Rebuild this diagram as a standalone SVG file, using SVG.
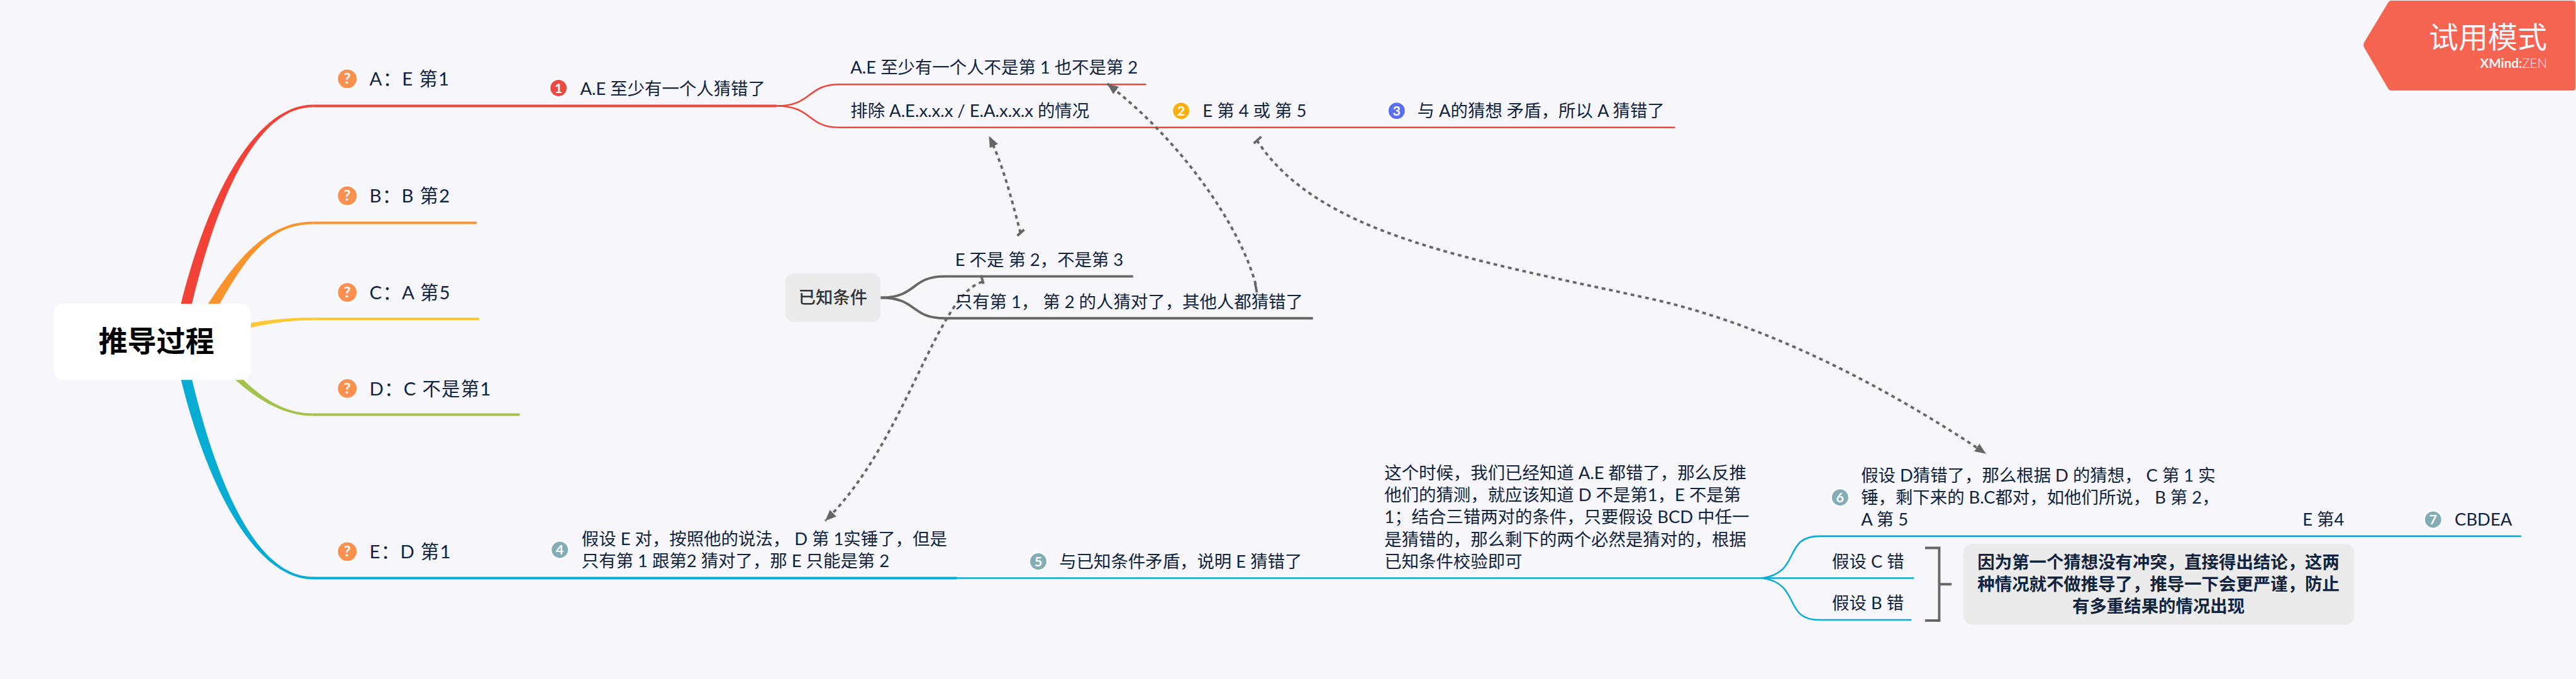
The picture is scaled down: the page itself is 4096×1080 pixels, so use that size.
<svg xmlns="http://www.w3.org/2000/svg" width="4096" height="1080" viewBox="0 0 4096 1080">
<style>
text{font-family:"Lato","Noto Sans CJK SC","Noto Sans",sans-serif;fill:#10233f}
.t{font-size:28px}
.h{font-size:30px;letter-spacing:1.3px}
.b{font-size:28px;font-weight:700}
.c{text-anchor:middle}
.ico{stroke:#fff;stroke-width:2.5}
.q{fill:#fc9050}.n1{fill:#ea4a44}.n2{fill:#fdb00d}.n3{fill:#5a6ff0}.n4{fill:#82adb6}
.g{font-weight:700;text-anchor:middle;fill:#fff}
.gq{font-size:24px}.gn{font-size:22px}
.red{fill:none;stroke:#f14338;stroke-width:2.6}
.teal{fill:none;stroke:#06acd2;stroke-width:2.6}
.grey{fill:none;stroke:#666;stroke-width:4}
.rel{fill:none;stroke:#666;stroke-width:4;stroke-dasharray:6 6}
.tick{fill:none;stroke:#666;stroke-width:4}
.box{fill:#ebebeb}
</style>
<defs>
<marker id="arrow" markerUnits="userSpaceOnUse" markerWidth="20" markerHeight="16" refX="18" refY="7.5" orient="auto"><path d="M0 0L18 7.5L0 15Z" fill="#666"/></marker>
</defs>
<rect width="4096" height="1080" fill="#f6f6fb"/>
<g transform="scale(0.9792)">
<g id="connectors">
<path d="M281 550C331 308 420 170 508 170V174C420 174 349 312 299 550Z" fill="#f14338"/>
<path d="M300 555C355 468 410 360 508 360V364C410 364 375 472 320 555Z" fill="#f9942d"/>
<path d="M300 555C360 533 420 516 508 516V520C420 520 360 547 300 565Z" fill="#fdc933"/>
<path d="M325 555C362 602 430 675.5 508 675.5V671.5C430 671.5 378 598 340 555Z" fill="#a4c34a"/>
<path d="M281 560C331 802 420 941 508 941V937C420 937 349 798 299 560Z" fill="#06acd2"/>
<path d="M508 172H1261" fill="none" stroke="#f14338" stroke-width="4"/>
<path d="M508 362H774" fill="none" stroke="#f9942d" stroke-width="4"/>
<path d="M508 518H778" fill="none" stroke="#fdc933" stroke-width="4"/>
<path d="M508 673.5H844" fill="none" stroke="#a4c34a" stroke-width="4"/>
<path d="M506 939H1554" fill="none" stroke="#06acd2" stroke-width="4"/>
<path class="red" d="M1261 172C1320 172 1310 137 1363 137H1861"/>
<path class="red" d="M1261 172C1320 172 1310 207 1363 207H2720"/>
<path class="teal" d="M1554 939H3108"/>
<path class="teal" d="M2862 939C2925 930 2895 871 2954 871H4094"/>
<path class="teal" d="M2862 939C2925 948 2895 1007 2954 1007H3104"/>
<path class="grey" d="M1430 483.5C1490 483.5 1478 449 1534 449H1840"/>
<path class="grey" d="M1430 483.5C1490 483.5 1478 517 1534 517H2132"/>
<path class="grey" d="M3126 890H3149V1008H3126M3149 949H3169"/>
<path class="rel" d="M1657 378C1647 340 1630 270 1606 221" marker-end="url(#arrow)"/>
<path class="tick" d="M1652 383L1663 373"/>
<path class="rel" d="M2039 462C2015 370 1920 230 1798 136" marker-end="url(#arrow)"/>
<path class="tick" d="M2041 475L2038 460"/>
<path class="rel" d="M2041 228C2140 380 2380 420 2679 485C2860 525 3050 620 3225 737" marker-end="url(#arrow)"/>
<path class="tick" d="M2036 233L2048 222"/>
<path class="rel" d="M1595 458C1520 480 1470 720 1340 846" marker-end="url(#arrow)"/>
<path class="tick" d="M1593 447L1597 461"/>
</g>
<g id="root"><rect x="87" y="493.5" width="320.5" height="123.5" rx="15" fill="#fff"/><text x="254" y="571" class="c" font-size="47" font-weight="700" style="fill:#000">推导过程</text></g>
<g id="topic-a"><circle class="ico q" cx="564" cy="128" r="16.5"/><text class="g gq" x="564" y="136">?</text><text class="h" x="600" y="139">A：E 第1</text></g>
<g id="topic-b"><circle class="ico q" cx="564" cy="318" r="16.5"/><text class="g gq" x="564" y="326">?</text><text class="h" x="600" y="329">B：B 第2</text></g>
<g id="topic-c"><circle class="ico q" cx="564" cy="475" r="16.5"/><text class="g gq" x="564" y="483">?</text><text class="h" x="600" y="486">C：A 第5</text></g>
<g id="topic-d"><circle class="ico q" cx="564" cy="631" r="16.5"/><text class="g gq" x="564" y="639">?</text><text class="h" x="600" y="642">D：C 不是第1</text></g>
<g id="topic-e"><circle class="ico q" cx="564" cy="896" r="16.5"/><text class="g gq" x="564" y="904">?</text><text class="h" x="600" y="907">E：D 第1</text></g>
<g id="a1"><circle class="ico n1" cx="907" cy="143" r="14.5"/><text class="g gn" x="907" y="151">1</text><text class="t" x="942" y="154">A.E 至少有一个人猜错了</text></g>
<g id="a1-1"><text class="t" x="1381" y="119">A.E 至少有一个人不是第 1 也不是第 2</text></g>
<g id="a1-2"><text class="t" x="1381" y="190">排除 A.E.x.x.x / E.A.x.x.x 的情况</text></g>
<g id="a2"><circle class="ico n2" cx="1918" cy="180" r="14.5"/><text class="g gn" x="1918" y="188">2</text><text class="t" x="1953" y="190">E 第 4 或 第 5</text></g>
<g id="a3"><circle class="ico n3" cx="2268" cy="180" r="14.5"/><text class="g gn" x="2268" y="188">3</text><text class="t" x="2301.5" y="190">与 A的猜想 矛盾，所以 A 猜错了</text></g>
<g id="known"><rect class="box" x="1275" y="444" width="155" height="79" rx="14"/><text x="1352.5" y="493" class="c" font-size="28" font-weight="500" style="fill:#333">已知条件</text></g>
<g id="known-1"><text class="t" x="1551" y="432">E 不是 第 2，不是第 3</text></g>
<g id="known-2"><text class="t" x="1551" y="500">只有第 1， 第 2 的人猜对了，其他人都猜错了</text></g>
<g id="e4"><circle class="ico n4" cx="909" cy="893" r="14.5"/><text class="g gn" x="909" y="901">4</text><text class="t"><tspan x="944.5" y="885">假设 E 对，按照他的说法， D 第 1实锤了，但是</tspan><tspan x="944.5" y="921">只有第 1 跟第2 猜对了，那 E 只能是第 2</tspan></text></g>
<g id="e5"><circle class="ico n4" cx="1686" cy="912" r="14.5"/><text class="g gn" x="1686" y="920">5</text><text class="t" x="1720" y="922">与已知条件矛盾，说明 E 猜错了</text></g>
<g id="e-para"><text class="t"><tspan x="2248" y="778">这个时候，我们已经知道 A.E 都错了，那么反推</tspan><tspan x="2248" y="814">他们的猜测，就应该知道 D 不是第1，E 不是第</tspan><tspan x="2248" y="850">1；结合三错两对的条件，只要假设 BCD 中任一</tspan><tspan x="2248" y="886">是猜错的，那么剩下的两个必然是猜对的，根据</tspan><tspan x="2248" y="922">已知条件校验即可</tspan></text></g>
<g id="e6"><circle class="ico n4" cx="2988" cy="808" r="14.5"/><text class="g gn" x="2988" y="816">6</text><text class="t"><tspan x="3022" y="782">假设 D猜错了，那么根据 D 的猜想， C 第 1 实</tspan><tspan x="3022" y="818">锤，剩下来的 B.C都对，如他们所说， B 第 2，</tspan><tspan x="3022" y="854">A 第 5</tspan></text></g>
<g id="e6-1"><text class="t" x="3739" y="854">E 第4</text></g>
<g id="e7"><circle class="ico n4" cx="3951" cy="844" r="14.5"/><text class="g gn" x="3951" y="852">7</text><text class="t" x="3986" y="854">CBDEA</text></g>
<g id="e-c"><text class="t" x="2975" y="922">假设 C 错</text></g>
<g id="e-b"><text class="t" x="2975" y="990">假设 B 错</text></g>
<g id="summary"><rect class="box" x="3188" y="883" width="635" height="132" rx="16"/><text class="b c"><tspan x="3505" y="923">因为第一个猜想没有冲突，直接得出结论，这两</tspan><tspan x="3505" y="959">种情况就不做推导了，推导一下会更严谨，防止</tspan><tspan x="3505" y="995">有多重结果的情况出现</tspan></text></g>
<g id="badge"><path d="M3882 1H4178Q4182 1 4182 5V143Q4182 147 4178 147H3882Q3880 147 3878 144L3839 77Q3837 73 3839 69L3878 4Q3880 1 3882 1Z" fill="#f56450"/><text x="4136" y="78" text-anchor="end" font-size="48" style="fill:#f6f6fb">试用模式</text><text x="4136" y="110" text-anchor="end" font-size="21" style="fill:#f6f6fb"><tspan font-weight="700">XMind:</tspan><tspan font-weight="300">ZEN</tspan></text></g>
</g>
</svg>
